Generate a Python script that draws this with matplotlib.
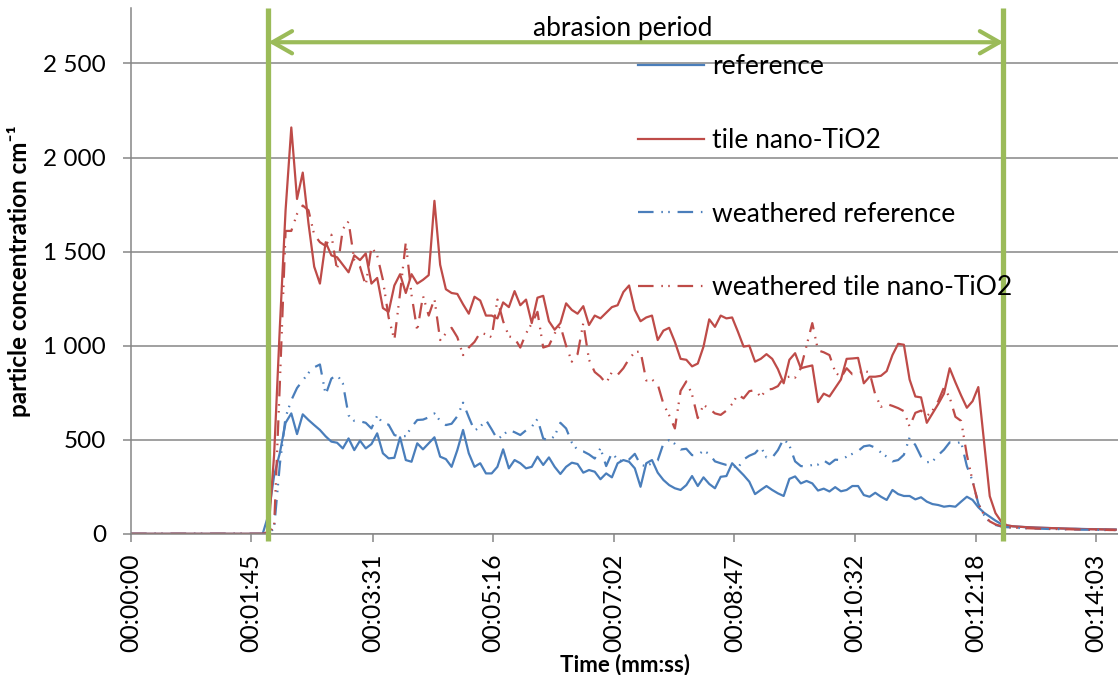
import numpy as np
import matplotlib.pyplot as plt
from matplotlib import ticker

plt.rcParams['font.family'] = ['Lato', 'DejaVu Sans']

# particle counter logs one value every 5 s, starting at 00:00:00
step = 5

reference = [0] * 24 + [
    100, 310, 430, 590, 640, 530, 635, 605, 578, 552,
    518, 490, 484, 454, 507, 445, 495, 454, 477, 534,
    428, 401, 404, 513, 392, 383, 481, 449, 481, 513,
    410, 397, 356, 445, 552, 428, 356, 375, 321, 321,
    356, 449, 348, 392, 375, 348, 356, 410, 366, 406,
    356, 318, 356, 378, 371, 325, 339, 330, 290, 321,
    300, 375, 392, 383, 348, 250, 375, 392, 325, 286,
    259, 242, 233, 259, 307, 254, 300, 265, 242, 303,
    307, 375, 343, 312, 277, 211, 233, 254, 233, 215,
    201, 292, 305, 268, 281, 268, 230, 240, 225, 248,
    226, 233, 254, 254, 206, 197, 218, 197, 180, 233,
    211, 201, 201, 183, 194, 171, 158, 153, 144, 148,
    144, 171, 197, 180, 141, 112, 91, 70, 52, 44,
    40, 38, 36, 35, 33, 32, 31, 30, 29, 28,
    27, 27, 26, 25, 25, 24, 24, 23, 23]

tile = [0] * 24 + [
    10, 420, 1100, 1720, 2160, 1780, 1920, 1650, 1420, 1330,
    1550, 1480, 1470, 1430, 1390, 1480, 1455, 1490, 1330, 1360,
    1200, 1180, 1320, 1380, 1280, 1380, 1330, 1350, 1375, 1770,
    1430, 1300, 1280, 1275, 1220, 1170, 1260, 1240, 1160, 1160,
    1145, 1230, 1205, 1290, 1215, 1245, 1120, 1255, 1265, 1130,
    1085, 1120, 1225, 1190, 1170, 1210, 1110, 1160, 1145, 1175,
    1205, 1215, 1285, 1320, 1190, 1130, 1150, 1160, 1030, 1080,
    1095, 1020, 930, 925, 890, 905, 995, 1140, 1100, 1160,
    1145, 1150, 1075, 995, 1000, 915, 930, 955, 930, 875,
    800, 925, 960, 880, 888, 895, 700, 745, 730, 775,
    820, 930, 932, 935, 800, 835, 835, 840, 865, 950,
    1010, 1005, 820, 730, 725, 590, 640, 690, 745, 880,
    805, 735, 670, 705, 780, 490, 200, 110, 65, 45,
    40, 38, 36, 34, 33, 32, 31, 30, 29, 28,
    27, 26, 25, 25, 24, 24, 23, 23, 22]

weathered_reference = [0] * 24 + [
    0, 30, 370, 620, 710, 775, 815, 855, 885, 900,
    740, 825, 845, 800, 630, 600, 598, 590, 560, 628,
    587, 580, 525, 516, 520, 567, 605, 607, 619, 640,
    600, 578, 585, 625, 697, 620, 548, 569, 605, 555,
    502, 525, 552, 540, 525, 550, 569, 610, 507, 495,
    520, 590, 560, 485, 445, 438, 422, 400, 455, 360,
    430, 395, 383, 395, 425, 366, 360, 375, 390, 480,
    498, 478, 448, 452, 418, 420, 441, 425, 385, 375,
    366, 364, 350, 395, 415, 428, 462, 406, 405, 445,
    505, 470, 385, 360, 358, 366, 368, 390, 370, 394,
    392, 410, 425, 440, 465, 470, 458, 432, 410, 385,
    392, 420, 512, 472, 410, 380, 385, 418, 447, 486,
    480, 488, 360, 280, 160, 100, 62, 47, 39, 35,
    33, 31, 30, 29, 28, 27, 26, 25, 25, 24,
    23, 23, 22, 22, 21, 21, 20, 20, 20]

weathered_tile = [0] * 24 + [
    0, 40, 800, 1610, 1610, 1700, 1745, 1720, 1590, 1550,
    1530, 1590, 1400, 1620, 1660, 1455, 1420, 1320, 1525, 1480,
    1350, 1150, 1030, 1280, 1550, 1270, 1080, 1265, 1160, 1250,
    1030, 1065, 1095, 1045, 950, 990, 1020, 1070, 1060, 1045,
    1245, 1130, 1050, 1040, 990, 1065, 1118, 1180, 990, 1000,
    1065, 1105, 1000, 915, 955, 1120, 925, 860, 835, 800,
    860, 845, 880, 930, 965, 970, 815, 820, 795, 690,
    630, 560, 760, 810, 740, 615, 685, 665, 640, 632,
    655, 690, 740, 720, 758, 764, 728, 766, 770, 785,
    830, 835, 830, 880, 1000, 1120, 975, 965, 950, 861,
    830, 880, 848, 852, 866, 858, 740, 675, 690, 680,
    668, 652, 570, 643, 655, 625, 655, 705, 778, 725,
    622, 600, 420, 280, 160, 100, 66, 50, 40, 35,
    33, 31, 30, 29, 28, 27, 26, 26, 25, 24,
    24, 23, 23, 22, 22, 21, 21, 20, 20]

labels = ['reference', 'tile nano-TiO2', 'weathered reference',
          'weathered tile nano-TiO2']

tick_secs = [0, 105, 211, 316, 422, 527, 632, 738, 843]
abrasion = [120, 762]   # start / end of abrasion (s)

blue = '#4A7EBB'
red = '#BE4B48'
green = '#9BBB59'
grey = '#868686'
ddot = (0, (7, 3.5, 0.7, 2.4, 0.7, 3.5))   # long dash dot dot


def hms(s, pos=None):
    s = int(round(s))
    return f"{s // 3600:02d}:{s % 3600 // 60:02d}:{s % 60:02d}"


def thousands(v, pos=None):
    return f"{int(v):,}".replace(',', ' ')


fig = plt.figure(figsize=(11.18, 6.75), dpi=100)
ax = fig.add_axes([131 / 1118, 1 - 533.8 / 675, 1 - 131 / 1118, 525.8 / 675])

series = [(reference, blue, '-'), (tile, red, '-'),
          (weathered_reference, blue, ddot), (weathered_tile, red, ddot)]
handles = []
for vals, col, ls in series:
    t = np.arange(len(vals)) * step
    h, = ax.plot(t, vals, color=col, linestyle=ls, linewidth=1.6)
    handles.append(h)

ax.set_xlim(0, 862)
ax.set_ylim(0, 2795)

ax.set_xticks(tick_secs)
ax.xaxis.set_major_formatter(ticker.FuncFormatter(hms))
ax.set_yticks([0, 500, 1000, 1500, 2000, 2500])
ax.yaxis.set_major_formatter(ticker.FuncFormatter(thousands))
ax.tick_params(axis='x', labelrotation=90, labelsize=17.8, length=6,
               width=1.1, color=grey, pad=8)
ax.tick_params(axis='y', labelsize=17.5, length=6, width=1.1, color=grey, pad=12)

ax.grid(axis='y', color=grey, linewidth=1.1)
ax.set_axisbelow(True)
for side in ['top', 'right']:
    ax.spines[side].set_visible(False)
for side in ['left', 'bottom']:
    ax.spines[side].set_color(grey)
    ax.spines[side].set_linewidth(1.1)

# abrasion period markers
ax.vlines(abrasion, -40, 2795, color=green, linewidth=3.8, clip_on=False, zorder=5)
ax.annotate('', xy=(abrasion[0], 2613), xytext=(abrasion[1], 2613),
            arrowprops=dict(arrowstyle='<->,head_length=0.7,head_width=0.4',
                            color=green, lw=3, shrinkA=0, shrinkB=0,
                            mutation_scale=20), zorder=5)
ax.text(429, 2685, 'abrasion period', ha='center', va='center', fontsize=19)

ax.set_xlabel('Time (mm:ss)', fontsize=16, fontweight='bold', labelpad=1)
ax.set_ylabel('particle concentration cm\u207b\u00b9', fontsize=17.5,
              fontweight='bold', labelpad=9)

fig.legend(handles, labels, loc='upper left',
           bbox_to_anchor=(638 / 1118, 1 - 54 / 675), frameon=False,
           fontsize=19, handlelength=2.5, handletextpad=0.3,
           labelspacing=1.85, borderaxespad=0, borderpad=0)

fig.savefig('out.png', dpi=100)
